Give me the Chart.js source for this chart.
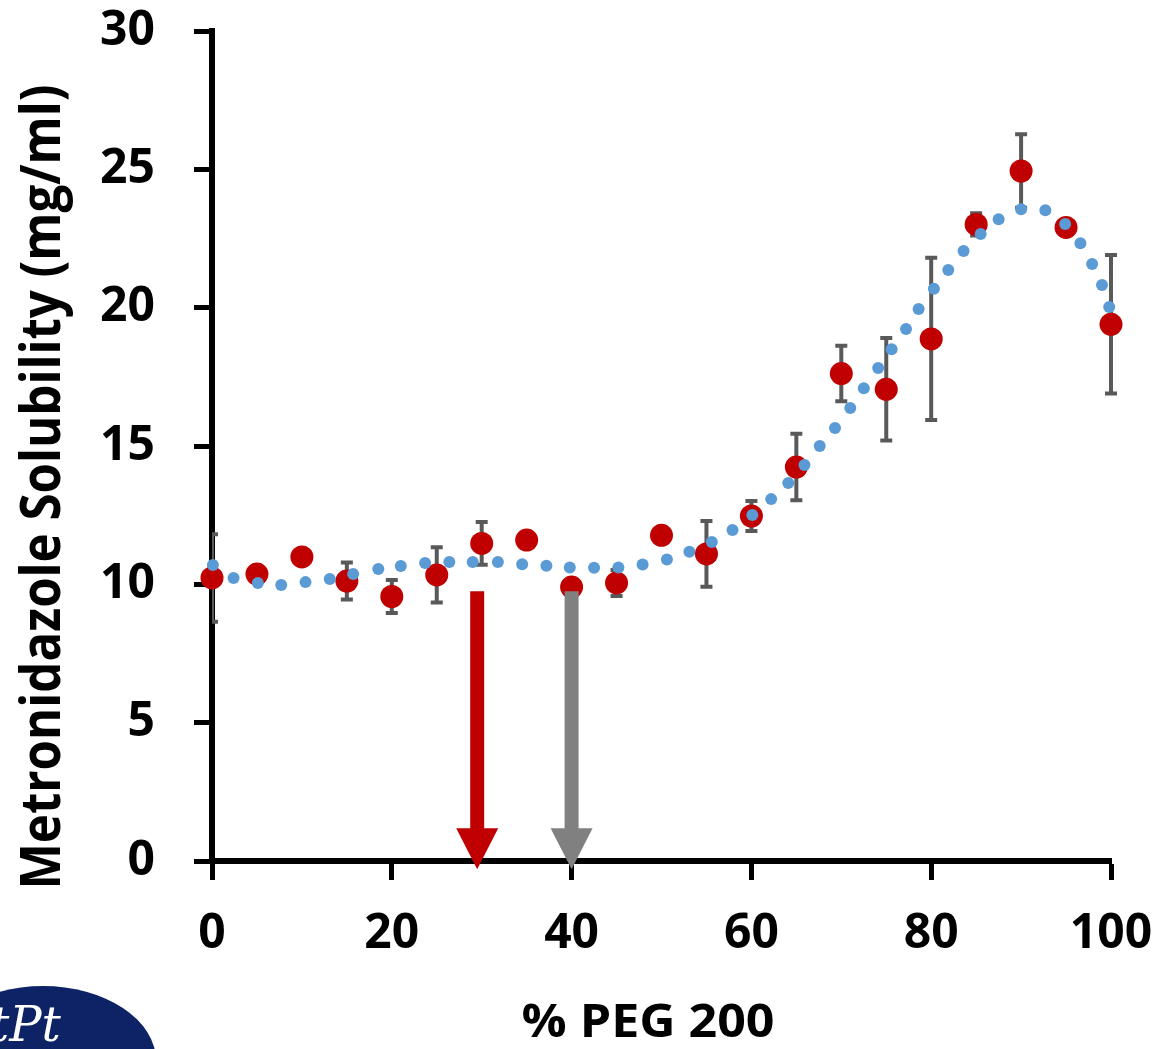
<!DOCTYPE html>
<html>
<head>
<meta charset="utf-8">
<script src="https://cdn.jsdelivr.net/npm/chart.js@4"></script>
<style>
  html, body { margin: 0; padding: 0; background: #fff; }
  #wrap { position: relative; width: 1163px; height: 1049px; overflow: hidden; }
  #logo {
    position: absolute; left: -70px; top: 986px; width: 226px; height: 150px;
    background: #0d2366; border-radius: 50%;
  }
  #logo span {
    position: absolute; left: 60px; top: 10px; color: #fff;
    font: italic 48px "DejaVu Serif", serif;
  }
</style>
</head>
<body>
<div id="wrap">
  <canvas id="chart" width="1163" height="1049"></canvas>
  <div id="logo"><span>tPt</span></div>
</div>
<script>
// % PEG 200 vs measured solubility (mg/ml)
const pegPercent = [0, 5, 10, 15, 20, 25, 30, 35, 40, 45, 50, 55, 60, 65, 70, 75, 80, 85, 90, 95, 100];
const solubility = [10.23, 10.37, 10.99, 10.12, 9.56, 10.34, 11.48, 11.60, 9.90, 10.05, 11.77, 11.10, 12.47, 14.24, 17.62, 17.05, 18.87, 23.01, 24.94, 22.90, 19.40];
const solubilityErr = [1.58, 0, 0, 0.67, 0.6, 1.0, 0.77, 0, 0, 0.47, 0, 1.19, 0.54, 1.2, 1.0, 1.85, 2.93, 0.4, 1.33, 0.2, 2.5];

// dotted trend line
const trendX = [0.1, 2.4, 5.1, 7.7, 10.4, 13.1, 15.7, 18.5, 21.0, 23.7, 26.4, 29.0, 31.8, 34.5, 37.2, 39.8, 42.5, 45.2, 47.9, 50.6, 53.1, 55.6, 57.9, 60.1, 62.2, 64.1, 65.9, 67.6, 69.3, 71.0, 72.5, 74.1, 75.6, 77.2, 78.6, 80.3, 81.9, 83.6, 85.5, 87.5, 90.0, 92.7, 94.9, 96.6, 97.9, 99.0, 99.8];
const trendY = [10.70, 10.23, 10.05, 9.98, 10.08, 10.19, 10.37, 10.55, 10.66, 10.77, 10.81, 10.81, 10.81, 10.73, 10.67, 10.61, 10.60, 10.61, 10.72, 10.90, 11.18, 11.53, 11.96, 12.51, 13.08, 13.66, 14.31, 15.00, 15.65, 16.37, 17.09, 17.82, 18.50, 19.23, 19.95, 20.68, 21.36, 22.05, 22.66, 23.20, 23.56, 23.52, 23.02, 22.33, 21.58, 20.82, 20.02];

// arrows
const arrowX = [29.5, 40];
const arrowColors = ['#C00000', '#808080'];
const arrowTop = 9.75;
const arrowTip = -0.3;

const xTitle = '% PEG 200';
const yTitle = 'Metronidazole Solubility (mg/ml)';

const tickFont = { family: 'Open Sans', weight: 'bold', size: 48 };

// error bars behind the red markers
const errorBars = {
  id: 'errorBars',
  beforeDatasetsDraw(chart) {
    const ctx = chart.ctx;
    const xs = chart.scales.x, ys = chart.scales.y;
    const area = chart.chartArea;
    ctx.save();
    ctx.beginPath();
    ctx.rect(area.left, 0, area.right - area.left + 20, chart.height);
    ctx.clip();
    ctx.strokeStyle = '#595959';
    ctx.lineWidth = 4;
    pegPercent.forEach((x, i) => {
      const e = solubilityErr[i];
      if (!e) return;
      const px = xs.getPixelForValue(x);
      const top = ys.getPixelForValue(solubility[i] + e);
      const bot = ys.getPixelForValue(solubility[i] - e);
      ctx.beginPath();
      ctx.moveTo(px, top); ctx.lineTo(px, bot);
      ctx.moveTo(px - 6, top); ctx.lineTo(px + 6, top);
      ctx.moveTo(px - 6, bot); ctx.lineTo(px + 6, bot);
      ctx.stroke();
    });
    ctx.restore();
  }
};

// arrows + axis titles
const extras = {
  id: 'extras',
  afterDatasetsDraw(chart) {
    const ctx = chart.ctx;
    const xs = chart.scales.x, ys = chart.scales.y;
    ctx.save();
    arrowX.forEach((x, i) => {
      const px = xs.getPixelForValue(x);
      const top = ys.getPixelForValue(arrowTop);
      const tip = ys.getPixelForValue(arrowTip);
      const headLen = 41, headHalf = 21, shaftHalf = 7;
      ctx.fillStyle = arrowColors[i];
      ctx.fillRect(px - shaftHalf, top, shaftHalf * 2, tip - headLen - top + 1);
      ctx.beginPath();
      ctx.moveTo(px - headHalf, tip - headLen);
      ctx.lineTo(px + headHalf, tip - headLen);
      ctx.lineTo(px, tip);
      ctx.closePath();
      ctx.fill();
    });
    ctx.restore();
  },
  afterDraw(chart) {
    const ctx = chart.ctx;
    ctx.save();
    ctx.fillStyle = '#000';
    ctx.textAlign = 'center';
    ctx.textBaseline = 'alphabetic';
    // y title, squeezed to the width seen in the picture
    ctx.font = 'bold 55px "Open Sans"';
    let w = ctx.measureText(yTitle).width;
    ctx.translate(60, 487);
    ctx.rotate(-Math.PI / 2);
    ctx.scale(805 / w, 1);
    ctx.fillText(yTitle, 0, 0);
    ctx.restore();
    ctx.save();
    ctx.fillStyle = '#000';
    ctx.textAlign = 'center';
    ctx.font = 'bold 46px "Open Sans"';
    w = ctx.measureText(xTitle).width;
    ctx.translate(648, 1037);
    ctx.scale(253 / w, 1);
    ctx.fillText(xTitle, 0, 0);
    ctx.restore();
  }
};

new Chart(document.getElementById('chart'), {
  type: 'scatter',
  data: {
    datasets: [
      {
        label: 'Trend',
        data: trendX.map((x, i) => ({ x: x, y: trendY[i] })),
        backgroundColor: '#5B9BD5',
        borderColor: '#5B9BD5',
        pointRadius: 6,
        borderWidth: 0,
        showLine: false,
        clip: false
      },
      {
        label: 'Solubility',
        data: pegPercent.map((x, i) => ({ x: x, y: solubility[i] })),
        backgroundColor: '#C00000',
        borderColor: '#C00000',
        pointRadius: 11.5,
        borderWidth: 0,
        clip: false
      }
    ]
  },
  options: {
    responsive: false,
    animation: false,
    layout: { padding: { left: 0, right: 52, top: 31, bottom: 0 } },
    plugins: { legend: { display: false }, tooltip: { enabled: false } },
    scales: {
      x: {
        min: 0, max: 100,
        afterFit: (scale) => { scale.height = 188; scale.paddingLeft = 0; scale.paddingRight = 0; },
        ticks: { stepSize: 20, color: '#000', font: tickFont, padding: 26, maxRotation: 0 },
        grid: { drawOnChartArea: false, tickLength: 19, tickWidth: 5, tickColor: '#000' },
        border: { color: '#000', width: 6 }
      },
      y: {
        min: 0, max: 30,
        afterFit: (scale) => { scale.width = 212; scale.paddingTop = 0; scale.paddingBottom = 0; },
        ticks: { stepSize: 5, color: '#000', font: tickFont, padding: 39 },
        grid: { drawOnChartArea: false, tickLength: 18, tickWidth: 5, tickColor: '#000' },
        border: { color: '#000', width: 6 }
      }
    }
  },
  plugins: [errorBars, extras]
});
</script>
</body>
</html>
